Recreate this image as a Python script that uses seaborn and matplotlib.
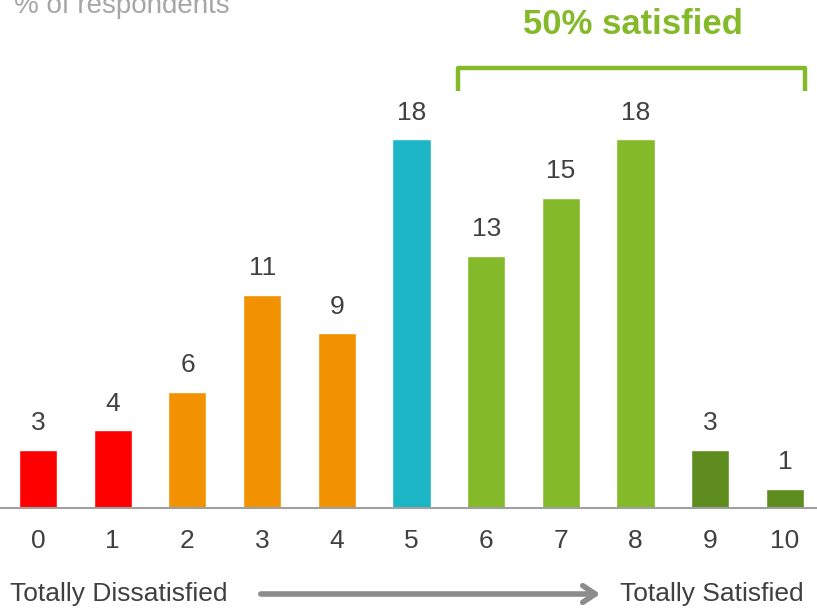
import matplotlib
matplotlib.use("Agg")
import matplotlib.pyplot as plt
import seaborn as sns
import pandas as pd

scores = ["0", "1", "2", "3", "4", "5", "6", "7", "8", "9", "10"]
values = [3, 4, 6, 11, 9, 19, 13, 16, 19, 3, 1]
value_labels = ["3", "4", "6", "11", "9", "18", "13", "15", "18", "3", "1"]
groups = ["detractor", "detractor", "low", "low", "low", "neutral",
          "satisfied", "satisfied", "satisfied", "top", "top"]
group_colors = {"detractor": "#ff0000", "low": "#f39200", "neutral": "#1bb5c6",
                "satisfied": "#84ba29", "top": "#5e8c1f"}
title_text = "% of respondents"
bracket_text = "50% satisfied"
left_text = "Totally Dissatisfied"
right_text = "Totally Satisfied"

sns.set_style("white")
plt.rcParams["font.family"] = ["Liberation Sans", "DejaVu Sans"]

df = pd.DataFrame({"score": scores, "value": values, "group": groups})

fig = plt.figure(figsize=(8.17, 6.08), dpi=100)
ax = fig.add_axes([0, 100 / 608, 1, 388 / 608])
sns.barplot(data=df, x="score", y="value", hue="group", palette=group_colors,
            order=scores, width=0.51, legend=False, ax=ax, saturation=1,
            dodge=False)
ax.set_xlim(-0.51, 10.43)
ax.set_ylim(0, 20)
for s in ["top", "right", "left"]:
    ax.spines[s].set_visible(False)
ax.spines["bottom"].set_color("#a0a0a0")
ax.spines["bottom"].set_linewidth(1.5)
ax.set_yticks([])
ax.set_xlabel("")
ax.set_ylabel("")
ax.tick_params(axis="x", length=0, pad=15, labelsize=19, labelcolor="#404040")

for i, (v, lab) in enumerate(zip(values, value_labels)):
    ax.annotate(lab, (i, v), xytext=(0, 19), textcoords="offset points",
                ha="center", va="center", fontsize=19, color="#404040")

# bracket
bx0, bx1 = 5.62, 10.27
by_top, by_bot = 22.7, 21.5
ax.plot([bx0, bx0, bx1, bx1], [by_bot, by_top, by_top, by_bot], color="#84ba29",
        lw=3.2, clip_on=False, solid_joinstyle="round", solid_capstyle="butt")
fig.text(633 / 817, 1 - 25 / 608, bracket_text, ha="center", va="center",
         fontsize=25, fontweight="bold", color="#84ba29")

fig.text(14 / 817, 1 - 13 / 608, title_text, ha="left", va="baseline",
         fontsize=20, color="#a6a6a6")

fig.text(10 / 817, 1 - 594 / 608, left_text, ha="left", va="center",
         fontsize=19, color="#404040")
fig.text(804 / 817, 1 - 594 / 608, right_text, ha="right", va="center",
         fontsize=19, color="#404040")
fig.add_artist(matplotlib.patches.FancyArrowPatch(
    (258 / 817, 1 - 594 / 608), (603 / 817, 1 - 594 / 608),
    transform=fig.transFigure, arrowstyle="->,head_length=9,head_width=6",
    color="#8c8c8c", lw=4, mutation_scale=1))

fig.savefig("out.png", dpi=100)
